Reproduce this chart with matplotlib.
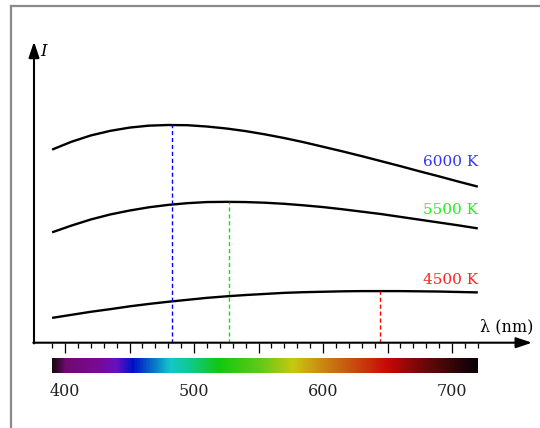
import numpy as np
import matplotlib
matplotlib.use('Agg')
import matplotlib.pyplot as plt
from matplotlib.colors import LinearSegmentedColormap
from matplotlib.lines import Line2D

# wavelengths (nm) where the curves were read, 390..720 every 15 nm
wavelengths = [390, 405, 420, 435, 450, 465, 480, 495, 510, 525, 540, 555,
               570, 585, 600, 615, 630, 645, 660, 675, 690, 705, 720]

# relative intensity (6000 K peak = 100)
i_6000 = [88.7, 92.3, 95.2, 97.3, 98.8, 99.7, 100.0, 99.9, 99.3, 98.4, 97.2, 95.7,
          94.0, 92.1, 90.0, 87.9, 85.7, 83.4, 81.1, 78.7, 76.4, 74.0, 71.7]
i_5500 = [50.7, 53.8, 56.6, 58.9, 60.7, 62.2, 63.3, 64.1, 64.6, 64.7, 64.6, 64.3,
          63.8, 63.1, 62.3, 61.3, 60.2, 59.1, 57.8, 56.5, 55.2, 53.9, 52.5]
i_4500 = [11.4, 12.8, 14.2, 15.4, 16.7, 17.8, 18.8, 19.7, 20.6, 21.3, 21.9, 22.4,
          22.9, 23.2, 23.4, 23.6, 23.7, 23.7, 23.7, 23.6, 23.5, 23.3, 23.1]

temps = ['6000 K', '5500 K', '4500 K']
peak_wl = [483, 527, 644]
peak_i = [100.0, 64.7, 23.7]
label_y = [83, 61, 29]

tick_labels = [400, 500, 600, 700]

# spectrum bar colour stops
spec_wl = [390, 400, 423, 439, 452, 470, 481, 496, 519, 553, 577, 603, 629, 650, 675, 696, 720]
spec_col = ['#1a0a14', '#700a70', '#780a90', '#6a10c0', '#0010c8', '#0a80c8', '#10c8c8',
            '#10c890', '#10c810', '#68c818', '#c8c810', '#c88010', '#c84010', '#c80808',
            '#780808', '#400808', '#0a0005']

# pixel -> data mapping (x: 400 nm at 65 px, 1.29 px/nm ; y: axis at 342.7 px, 2.177 px/unit)
W, H = 540, 428
px_nm = 1.29
px_i = 2.177
x0 = 400 - 65 / px_nm
x1 = 400 + (W - 65) / px_nm
y0 = -(H - 342.7) / px_i
y1 = 342.7 / px_i

def px(n):
    return n / px_nm

def py(n):
    return n / px_i

fig = plt.figure(figsize=(W / 100, H / 100), dpi=100)
ax = fig.add_axes([0, 0, 1, 1])
ax.set_xlim(x0, x1)
ax.set_ylim(y0, y1)
ax.axis('off')

# frame (cropped box)
fig.add_artist(Line2D([11 / W, 11 / W], [0, 1 - 5.7 / H], color='#8a8a8a', lw=1.6,
                      transform=fig.transFigure))
fig.add_artist(Line2D([11 / W, 1], [1 - 5.7 / H, 1 - 5.7 / H], color='#8a8a8a', lw=1.6,
                      transform=fig.transFigure))

serif = 'DejaVu Serif'
yax_x = 400 + (34 - 65) / px_nm

# axes with arrows
arrow = dict(arrowstyle='-|>,head_length=0.95,head_width=0.32', color='black',
             lw=1.5, shrinkA=0, shrinkB=0)
ax.annotate('', xy=(400 + (532 - 65) / px_nm, 0), xytext=(yax_x - px(0.7), 0), arrowprops=arrow)
ax.annotate('', xy=(yax_x, (342.7 - 41.7) / px_i), xytext=(yax_x, -py(0.7)), arrowprops=arrow)

# ticks
for t in range(390, 721, 10):
    ln = 10 if t % 50 == 0 else 5
    ax.plot([t, t], [0, -py(ln)], color='black', lw=0.9, solid_capstyle='butt')

# curves
for vals in (i_6000, i_5500, i_4500):
    ax.plot(wavelengths, vals, color='black', lw=1.7, solid_capstyle='butt',
            solid_joinstyle='round')

# peak markers
for wl, pk, c in zip(peak_wl, peak_i, ['#0000ff', '#00ee00', '#ff0000']):
    ax.plot([wl, wl], [0, pk], color=c, lw=1.0, ls=(0, (3, 2)))

# temperature labels
for t, yy, c in zip(temps, label_y, ['#3333ff', '#22ee22', '#ff2222']):
    ax.text(720, yy, t, color=c, ha='right', va='center', family=serif, fontsize=11)

# axis labels
ax.text(400 + (40 - 65) / px_nm, (342.7 - 51.5) / px_i, 'I', family=serif, style='italic',
        fontsize=12, ha='left', va='center')
ax.text(400 + (533 - 65) / px_nm, (342.7 - 326.7) / px_i, 'λ (nm)', family=serif,
        fontsize=11.5, ha='right', va='center')

# spectrum bar
pos = [(w - 390) / 330 for w in spec_wl]
cmap = LinearSegmentedColormap.from_list('spec', list(zip(pos, spec_col)))
grad = np.linspace(0, 1, 400).reshape(1, -1)
ax.imshow(grad, cmap=cmap, aspect='auto', interpolation='bilinear',
          extent=[390, 720, -(372.7 - 342.7) / px_i, -(358.3 - 342.7) / px_i], zorder=2)
ax.set_xlim(x0, x1)
ax.set_ylim(y0, y1)

for t in tick_labels:
    ax.text(t, -(391 - 342.7) / px_i, str(t), family=serif, fontsize=11.5,
            ha='center', va='center', color='#222222')

fig.savefig('out.png', dpi=100)
